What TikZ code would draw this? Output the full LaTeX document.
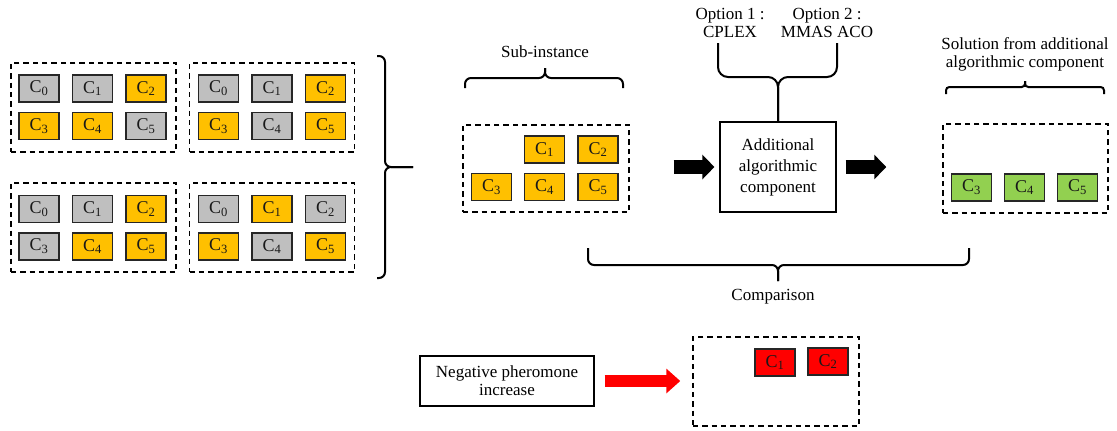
\documentclass[tikz,border=0pt]{standalone}
\usepackage{fontspec}
\setmainfont{Liberation Serif}
\usetikzlibrary{arrows.meta}
\definecolor{cgray}{RGB}{191,191,191}
\definecolor{corange}{RGB}{255,192,0}
\definecolor{cgreen}{RGB}{146,208,80}
\definecolor{cred}{RGB}{255,0,0}
\tikzset{
	cbox/.style={draw=black!85, line width=0.9pt, minimum width=30pt, minimum height=20.25pt, inner sep=0pt, text=black!90, font=\fontsize{13.5}{14}\selectfont},
	panel/.style={draw, dash pattern=on 4pt off 3pt, line width=1.1pt, minimum width=123.75pt, minimum height=66.75pt, inner sep=0pt},
	brc/.style={line width=1.5pt, rounded corners=4.5pt},
	blkarrow/.style={line width=10.5pt, -{Triangle[width=18pt,length=9pt]}},
	redarrow/.style={cred, line width=9pt, -{Triangle[width=18pt,length=10.5pt]}},
	plainbox/.style={draw, line width=0.9pt, align=center, inner sep=0pt}
}
\begin{document}
\begin{tikzpicture}[x=0.75pt, y=-0.75pt, font=\fontsize{12.75}{13.5}\selectfont]
		\useasboundingbox (0,0) rectangle (1117,430);
		\foreach \p/\px/\py/\cols in {1/0/0/{cgray,cgray,corange,corange,corange,cgray}, 2/1/0/{cgray,cgray,corange,corange,cgray,corange}, 3/0/1/{cgray,cgray,corange,cgray,corange,corange}, 4/1/1/{cgray,corange,cgray,corange,cgray,corange}}
			{
				\node[panel] (pan\p) at ({93.5+\px*178.5}, {107.5+\py*120}) {};
				\foreach \c [count=\k from 0] in \cols
					{
						\pgfmathsetmacro\col{int(mod(\k,3))}
						\pgfmathsetmacro\row{int(\k/3)}
						\node[cbox, fill=\c] (c\p\k) at ({39+\px*179.5+\col*53.5}, {88.5+\py*120.5+\row*37.5}) {C\textsubscript{\k}};
					}
			}
		\draw[brc] (377,56) -- (385,56) -- (385,167) -- (413,167);
		\draw[brc] (377,278) -- (385,278) -- (385,167) -- (413,167);
		\node[panel, minimum width=124.5pt, minimum height=65.25pt] (sub) at (546,168.5) {};
		\foreach \k/\x/\y in {1/544.5/149.5, 2/598/149.5, 3/491.5/187, 4/544.5/187, 5/598/187}
			\node[cbox, fill=corange] (sub\k) at (\x,\y) {C\textsubscript{\k}};
		\node (subtxt) at (545,52) {Sub-instance};
		\draw[brc] (465,88) -- (465,78) -- (545,78) -- (545,68);
		\draw[brc] (623,88) -- (623,78) -- (545,78) -- (545,68);
		\node[plainbox, minimum width=87pt, minimum height=67.5pt, font=\fontsize{12.75}{15.75}\selectfont] (add) at (778,167) {Additional\\algorithmic\\component};
		\node[align=center] (opt1) at (730,23) {Option 1 :\\CPLEX};
		\node[align=center] (opt2) at (827,23) {Option 2 :\\MMAS ACO};
		\draw[brc, rounded corners=7.5pt] (718,43) |- (778,77) -- (add.north);
		\draw[brc, rounded corners=7.5pt] (837,43) |- (778,77) -- (add.north);
		\node[panel] (sol) at (1025.5,168.5) {};
		\foreach \k/\x in {3/971.5, 4/1024.5, 5/1077.5}
			\node[cbox, fill=cgreen] (sol\k) at (\x,187.5) {C\textsubscript{\k}};
		\node[align=center] (soltxt) at (1025,54.5) {Solution from additional\\algorithmic component};
		\draw[brc, rounded corners=2.5pt] (946,94) -- (946,87) -- (1025,87) -- (1025,81);
		\draw[brc, rounded corners=2.5pt] (1104,94) -- (1104,87) -- (1025,87) -- (1025,81);
		\draw[blkarrow, shorten <=33pt, shorten >=3.75pt] (sub.east |- add.west) -- (add.west);
		\draw[blkarrow, shorten <=6.75pt, shorten >=42pt] (add.east) -- (sol.west |- add.east);
		\draw[brc] (588,248) -- (588,265) -- (778,265) -- (778,281);
		\draw[brc] (969,248) -- (969,265) -- (778,265) -- (778,281);
		\node (cmp) at (773,297) {Comparison};
		\node[plainbox, minimum width=130.5pt, minimum height=37.5pt] (neg) at (507,381) {Negative pheromone\\increase};
		\node[panel, minimum width=124.5pt] (pen) at (776,381.5) {};
		\node[cbox, fill=cred] (pen1) at (775,362.5) {C\textsubscript{1}};
		\node[cbox, fill=cred] (pen2) at (828,361.5) {C\textsubscript{2}};
		\draw[redarrow, shorten <=7.5pt, shorten >=9pt] (neg.east) -- (pen.west |- neg.east);
	\end{tikzpicture}
\end{document}
